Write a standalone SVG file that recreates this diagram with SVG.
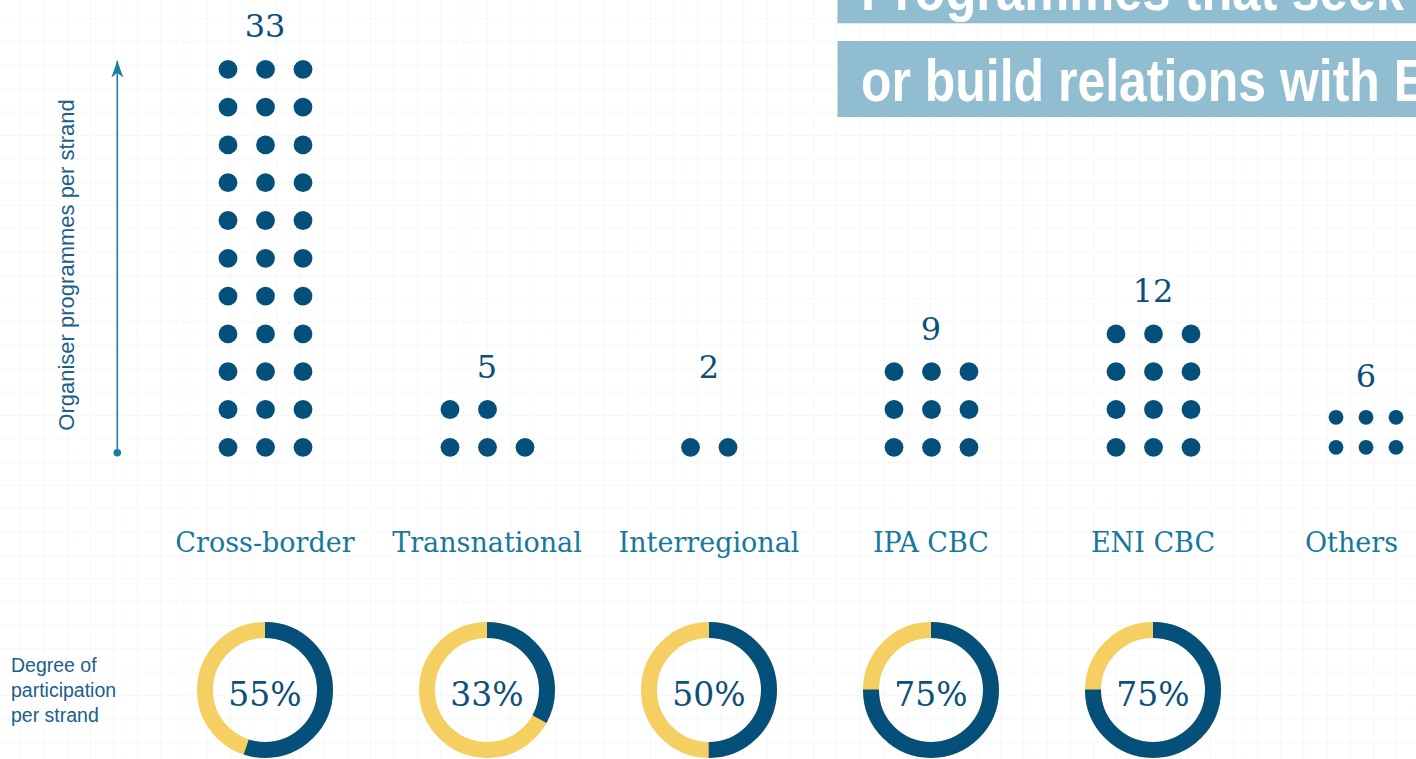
<svg xmlns="http://www.w3.org/2000/svg" width="1416" height="759" viewBox="0 0 1416 759">
<defs>
<pattern id="grid" patternUnits="userSpaceOnUse" x="20" y="18.33" width="23.333" height="23.333">
<path d="M0 0 H23.333 M0 0 V23.333" fill="none" stroke="#e9f1f5" stroke-width="1"/>
</pattern>
<marker id="arrowhead" viewBox="0 0 17 12" refX="17" refY="6" markerWidth="17" markerHeight="12" markerUnits="userSpaceOnUse" orient="auto">
<path d="M17 6 L0 0 L5 6 L0 12 Z" fill="#1a7ea3"/>
</marker>
</defs>
<style>
.dot{fill:#05507a}
.num{font-family:"DejaVu Serif","Liberation Serif",serif;font-size:32px;fill:#0d4f78;text-anchor:middle}
.lab{font-family:"DejaVu Serif","Liberation Serif",serif;font-size:27px;fill:#17789c;text-anchor:middle}
.pct{font-family:"DejaVu Serif","Liberation Serif",serif;font-size:33px;fill:#0d4f78;text-anchor:middle}
.sans{font-family:"Liberation Sans",Arial,sans-serif;fill:#1d5f88}
.ring{fill:none;stroke:#f6cf62;stroke-width:16}
.arc{fill:none;stroke:#05507a;stroke-width:16}
.title{font-family:"Liberation Sans",Arial,sans-serif;font-weight:bold;font-size:60px;fill:#ffffff}
.tbox{fill:#91bdd0}
</style>
<rect width="1416" height="759" fill="#ffffff"/>
<rect width="1416" height="759" fill="url(#grid)"/>

<g id="title">
<rect class="tbox" x="837.5" y="-20" width="600" height="43.3"/>
<text class="title" x="861" y="10" textLength="543" lengthAdjust="spacingAndGlyphs">Programmes that seek</text>
<rect class="tbox" x="837.5" y="41" width="600" height="76"/>
<text class="title" x="861" y="101" textLength="566" lengthAdjust="spacingAndGlyphs">or build relations with E</text>
</g>

<g id="axis">
<text class="sans" font-size="22" text-anchor="middle" transform="translate(73.5 265) rotate(-90)">Organiser programmes per strand</text>
</g>

<g id="connectors">
<line x1="117.3" y1="452.7" x2="117.3" y2="60.7" stroke="#1a7ea3" stroke-width="1.6" marker-end="url(#arrowhead)"/>
<circle cx="117.3" cy="452.7" r="3.8" fill="#1a7ea3"/>
</g>

<g id="cross-border">
<text class="num" x="265" y="36.7">33</text>
<g class="dot">
<circle cx="228" cy="69.3" r="9.4"/><circle cx="265.5" cy="69.3" r="9.4"/><circle cx="303" cy="69.3" r="9.4"/>
<circle cx="228" cy="107.1" r="9.4"/><circle cx="265.5" cy="107.1" r="9.4"/><circle cx="303" cy="107.1" r="9.4"/>
<circle cx="228" cy="144.9" r="9.4"/><circle cx="265.5" cy="144.9" r="9.4"/><circle cx="303" cy="144.9" r="9.4"/>
<circle cx="228" cy="182.7" r="9.4"/><circle cx="265.5" cy="182.7" r="9.4"/><circle cx="303" cy="182.7" r="9.4"/>
<circle cx="228" cy="220.5" r="9.4"/><circle cx="265.5" cy="220.5" r="9.4"/><circle cx="303" cy="220.5" r="9.4"/>
<circle cx="228" cy="258.3" r="9.4"/><circle cx="265.5" cy="258.3" r="9.4"/><circle cx="303" cy="258.3" r="9.4"/>
<circle cx="228" cy="296.1" r="9.4"/><circle cx="265.5" cy="296.1" r="9.4"/><circle cx="303" cy="296.1" r="9.4"/>
<circle cx="228" cy="333.9" r="9.4"/><circle cx="265.5" cy="333.9" r="9.4"/><circle cx="303" cy="333.9" r="9.4"/>
<circle cx="228" cy="371.7" r="9.4"/><circle cx="265.5" cy="371.7" r="9.4"/><circle cx="303" cy="371.7" r="9.4"/>
<circle cx="228" cy="409.5" r="9.4"/><circle cx="265.5" cy="409.5" r="9.4"/><circle cx="303" cy="409.5" r="9.4"/>
<circle cx="228" cy="447.3" r="9.4"/><circle cx="265.5" cy="447.3" r="9.4"/><circle cx="303" cy="447.3" r="9.4"/>
</g>
<text class="lab" x="265" y="552">Cross-border</text>
<circle class="ring" cx="265" cy="690" r="60"/>
<circle class="arc" cx="265" cy="690" r="60" stroke-dasharray="207.35 400" transform="rotate(-90 265 690)"/>
<text class="pct" x="265" y="706">55%</text>
</g>

<g id="transnational">
<text class="num" x="487" y="378">5</text>
<g class="dot">
<circle cx="450" cy="409.5" r="9.4"/><circle cx="487.5" cy="409.5" r="9.4"/>
<circle cx="450" cy="447.3" r="9.4"/><circle cx="487.5" cy="447.3" r="9.4"/><circle cx="525" cy="447.3" r="9.4"/>
</g>
<text class="lab" x="487" y="552">Transnational</text>
<circle class="ring" cx="487" cy="690" r="60"/>
<circle class="arc" cx="487" cy="690" r="60" stroke-dasharray="124.41 400" transform="rotate(-90 487 690)"/>
<text class="pct" x="487" y="706">33%</text>
</g>

<g id="interregional">
<text class="num" x="709" y="378">2</text>
<g class="dot">
<circle cx="690.5" cy="447.3" r="9.4"/><circle cx="728" cy="447.3" r="9.4"/>
</g>
<text class="lab" x="709" y="552">Interregional</text>
<circle class="ring" cx="709" cy="690" r="60"/>
<circle class="arc" cx="709" cy="690" r="60" stroke-dasharray="188.5 400" transform="rotate(-90 709 690)"/>
<text class="pct" x="709" y="706">50%</text>
</g>

<g id="ipa-cbc">
<text class="num" x="931" y="340">9</text>
<g class="dot">
<circle cx="894" cy="371.7" r="9.4"/><circle cx="931.5" cy="371.7" r="9.4"/><circle cx="969" cy="371.7" r="9.4"/>
<circle cx="894" cy="409.5" r="9.4"/><circle cx="931.5" cy="409.5" r="9.4"/><circle cx="969" cy="409.5" r="9.4"/>
<circle cx="894" cy="447.3" r="9.4"/><circle cx="931.5" cy="447.3" r="9.4"/><circle cx="969" cy="447.3" r="9.4"/>
</g>
<text class="lab" x="931" y="552">IPA CBC</text>
<circle class="ring" cx="931" cy="690" r="60"/>
<circle class="arc" cx="931" cy="690" r="60" stroke-dasharray="282.74 400" transform="rotate(-90 931 690)"/>
<text class="pct" x="931" y="706">75%</text>
</g>

<g id="eni-cbc">
<text class="num" x="1153" y="302">12</text>
<g class="dot">
<circle cx="1116" cy="333.9" r="9.4"/><circle cx="1153.5" cy="333.9" r="9.4"/><circle cx="1191" cy="333.9" r="9.4"/>
<circle cx="1116" cy="371.7" r="9.4"/><circle cx="1153.5" cy="371.7" r="9.4"/><circle cx="1191" cy="371.7" r="9.4"/>
<circle cx="1116" cy="409.5" r="9.4"/><circle cx="1153.5" cy="409.5" r="9.4"/><circle cx="1191" cy="409.5" r="9.4"/>
<circle cx="1116" cy="447.3" r="9.4"/><circle cx="1153.5" cy="447.3" r="9.4"/><circle cx="1191" cy="447.3" r="9.4"/>
</g>
<text class="lab" x="1153" y="552">ENI CBC</text>
<circle class="ring" cx="1153" cy="690" r="60"/>
<circle class="arc" cx="1153" cy="690" r="60" stroke-dasharray="282.74 400" transform="rotate(-90 1153 690)"/>
<text class="pct" x="1153" y="706">75%</text>
</g>

<g id="others">
<text class="num" x="1366" y="387">6</text>
<g class="dot">
<circle cx="1336" cy="417.3" r="7.4"/><circle cx="1366" cy="417.3" r="7.4"/><circle cx="1396" cy="417.3" r="7.4"/>
<circle cx="1336" cy="447.3" r="7.4"/><circle cx="1366" cy="447.3" r="7.4"/><circle cx="1396" cy="447.3" r="7.4"/>
</g>
<text class="lab" x="1351.5" y="552">Others</text>
</g>

<g id="legend">
<text class="sans" font-size="19.5" x="11" y="672">Degree of</text>
<text class="sans" font-size="19.5" x="11" y="697">participation</text>
<text class="sans" font-size="19.5" x="11" y="722">per strand</text>
</g>
</svg>
